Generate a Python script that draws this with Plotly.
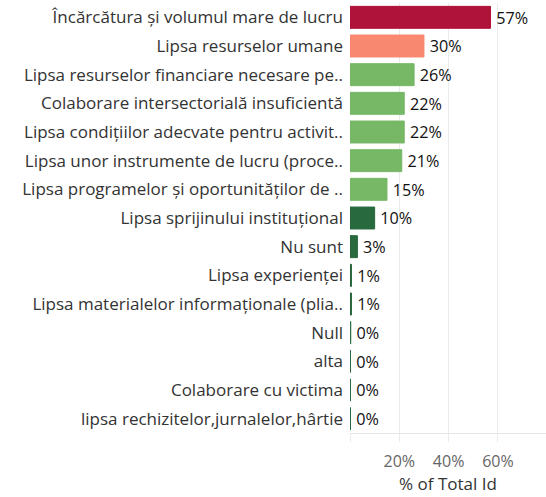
import plotly.graph_objects as go

categories = [
    "Încărcătura și volumul mare de lucru",
    "Lipsa resurselor umane",
    "Lipsa resurselor financiare necesare pe..",
    "Colaborare intersectorială insuficientă",
    "Lipsa condițiilor adecvate pentru activit..",
    "Lipsa unor instrumente de lucru (proce..",
    "Lipsa programelor și oportunităților de ..",
    "Lipsa sprijinului instituțional",
    "Nu sunt",
    "Lipsa experienței",
    "Lipsa materialelor informaționale (plia..",
    "Null",
    "alta",
    "Colaborare cu victima",
    "lipsa rechizitelor,jurnalelor,hârtie",
]
values = [0.57, 0.30, 0.26, 0.22, 0.22, 0.21, 0.15, 0.10, 0.03,
          0.006, 0.006, 0.003, 0.002, 0.002, 0.002]
colors = ["#AF1339", "#F88870", "#76B866", "#76B866", "#76B866", "#76B866",
          "#76B866", "#28693D", "#28693D", "#28693D", "#28693D", "#28693D",
          "#28693D", "#28693D", "#28693D"]
tick_vals = [0, 0.2, 0.4, 0.6]
tick_text = ["", "20%", "40%", "60%"]

FONT = "Open Sans"
FS = 17

fig = go.Figure(go.Bar(
    x=values, y=categories, orientation="h",
    marker=dict(color=colors, line=dict(color=colors, width=1)),
    texttemplate="\u2009%{x:.0%}", textposition="outside",
    textfont=dict(size=FS, color="#111111", family=FONT),
    cliponaxis=False,
))
fig.update_layout(
    width=546, height=497,
    margin=dict(l=350, r=0, t=3, b=64, autoexpand=False),
    plot_bgcolor="white", paper_bgcolor="white",
    bargap=0.235, showlegend=False,
    font=dict(family=FONT, size=FS, color="#333333"),
)
fig.update_yaxes(autorange="reversed", showgrid=False, ticks="", automargin=False,
                 tickfont=dict(size=FS, color="#333333"), ticklabelstandoff=6)
fig.update_xaxes(range=[0, 0.795], tickvals=tick_vals, ticktext=tick_text, automargin=False,
                 showgrid=True, gridcolor="#EBEBEB", zeroline=False,
                 showline=True, linecolor="#E6E6E6",
                 ticks="outside", ticklen=8, tickcolor="#EBEBEB",
                 ticklabelstandoff=6,
                 tickfont=dict(size=FS - 1, color="#666666"),
                 title=dict(text="% of Total Id", font=dict(size=FS, color="#333333"), standoff=4))
fig.write_html("out.html", config={"displayModeBar": False},
               post_script="document.body.style.margin='0';")
